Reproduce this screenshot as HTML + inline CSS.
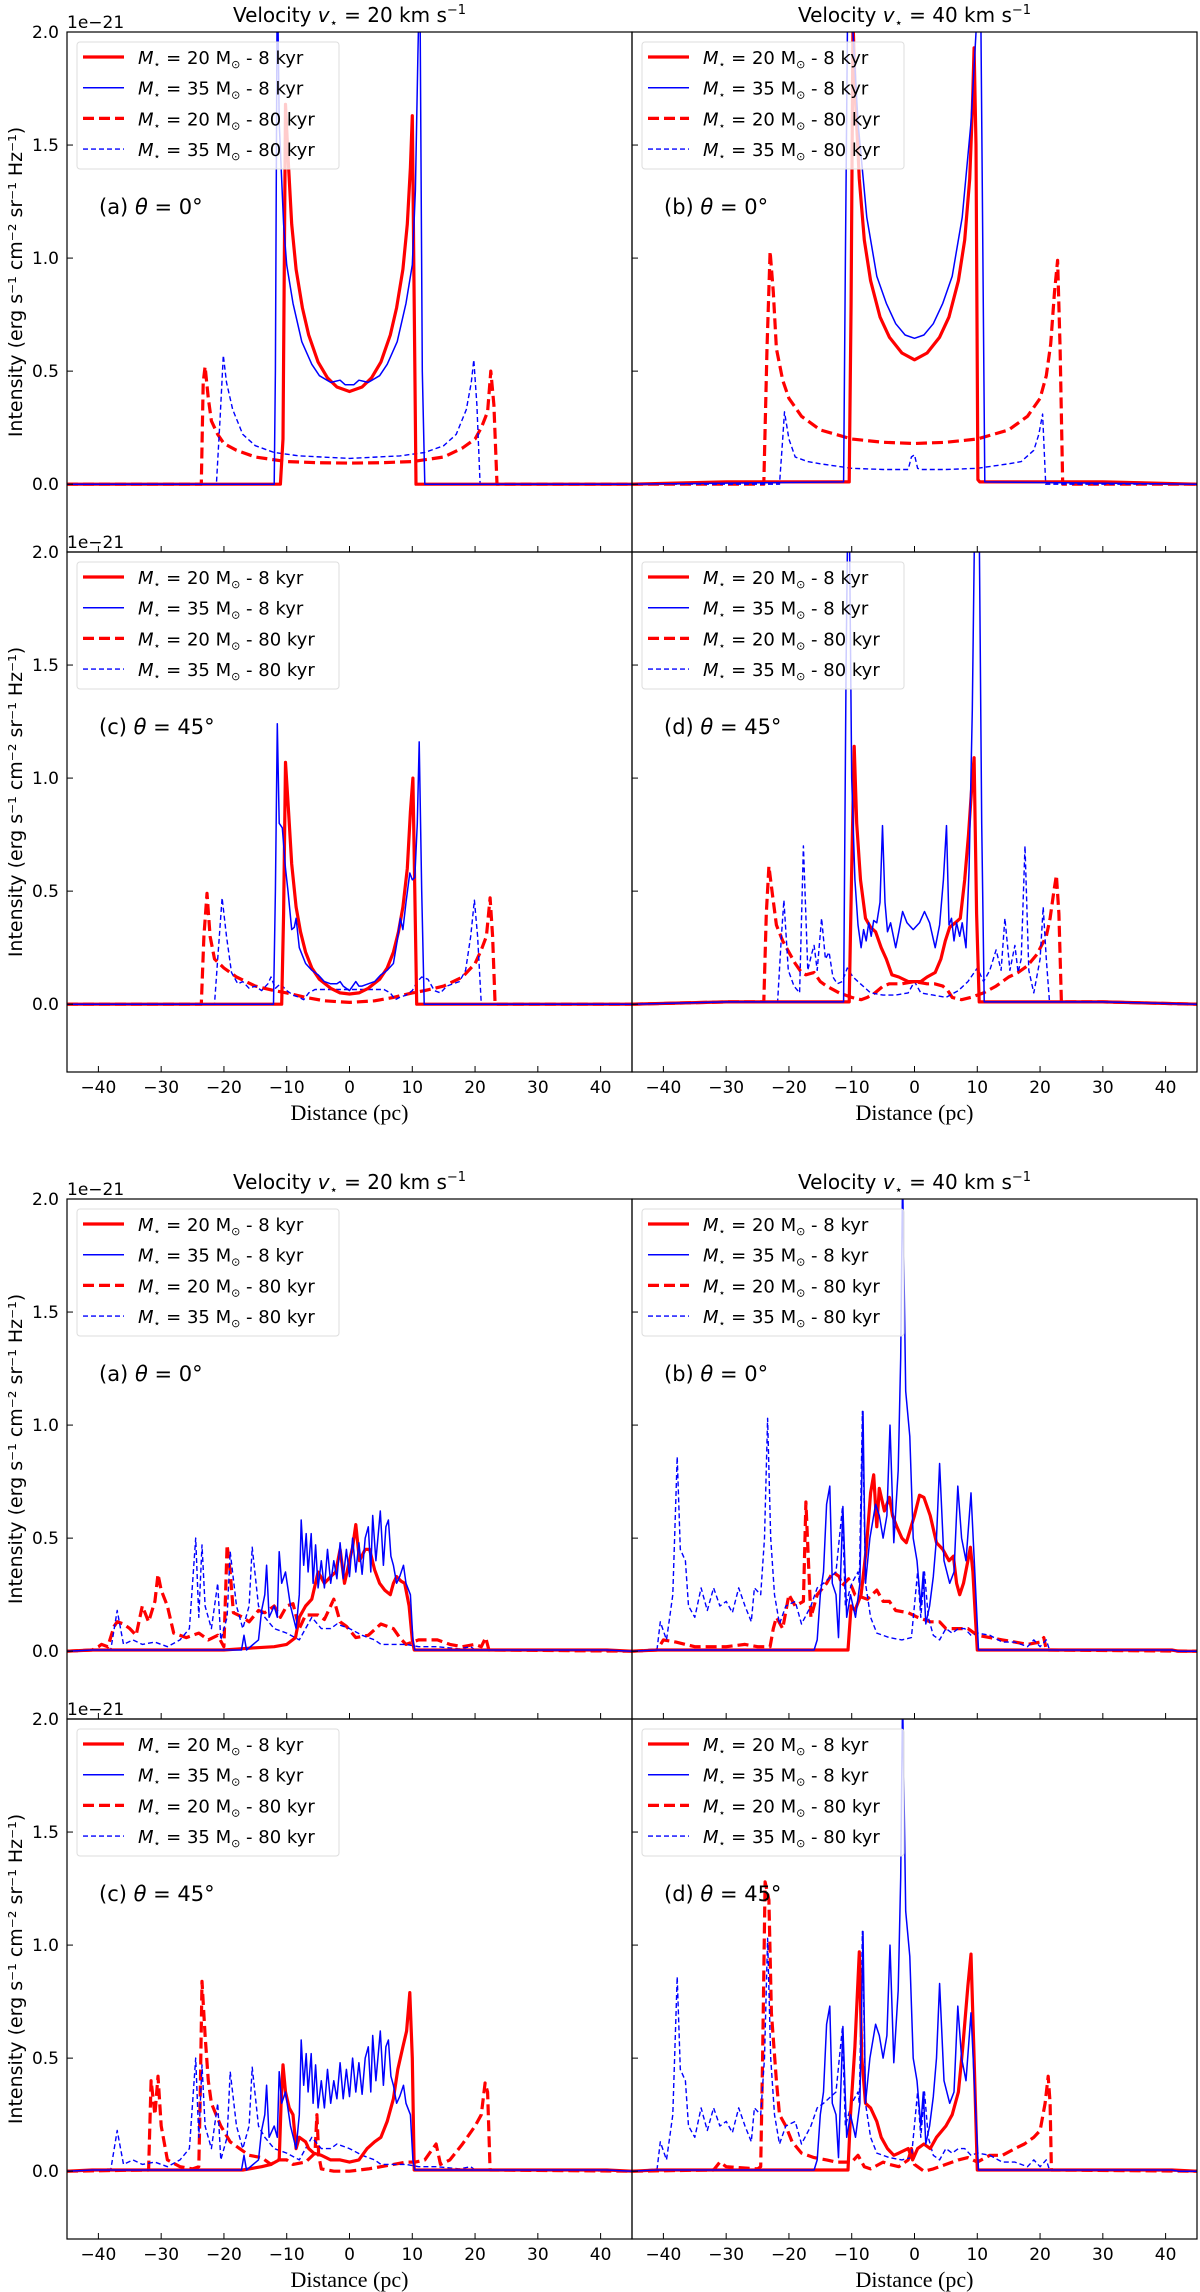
<!DOCTYPE html>
<html><head><meta charset="utf-8"><title>Intensity profiles</title>
<style>html,body{margin:0;padding:0;background:#fff}svg{display:block}</style></head>
<body>
<svg id="chart" xmlns="http://www.w3.org/2000/svg" width="1200" height="2292" viewBox="0 0 1200 2292"></svg>
<script>
// ===== Data (x in pc, y in 1e-21 erg s^-1 cm^-2 sr^-1 Hz^-1) =====
const xTicks = [-40,-30,-20,-10,0,10,20,30,40];
const yTicks = [0.0,0.5,1.0,1.5,2.0];
const yTickLabels = ["0.0","0.5","1.0","1.5","2.0"];
const legendLabels = ["20 M|8","35 M|8","20 M|80","35 M|80"];
const velocityTitles = ["20","40"];

// Top figure, panel (a)
const A1_r8_x = [-45,-11,-10.6,-10.2,-9.8,-9.2,-8.5,-7.5,-6.5,-5,-3.5,-2,0,2,3.5,5,6.5,7.5,8.5,9.2,9.7,10.0,10.3,10.6,45];
const A1_r8_y = [0,0,0.2,1.68,1.45,1.15,0.95,0.78,0.66,0.54,0.47,0.43,0.41,0.43,0.47,0.54,0.66,0.78,0.95,1.15,1.4,1.63,0.8,0,0];
const A1_b8_x = [-45,-12,-11.8,-11.5,-11.2,-10.5,-10,-9,-7.6,-6,-4.8,-3,-1.5,-0.7,0,0.7,1.5,3,4.8,6,7.6,9,10,10.5,10.9,11.2,11.6,12,45];
const A1_b8_y = [0,0,0.5,2.3,1.6,1.15,0.97,0.8,0.63,0.53,0.48,0.45,0.46,0.44,0.44,0.44,0.46,0.45,0.48,0.53,0.63,0.8,0.97,1.3,1.9,2.3,0.5,0,0];
const A1_r80_x = [-45,-23.6,-23.3,-23,-22.5,-22,-21,-20,-18,-15,-10,-5,0,5,10,15,18,20,21,22,22.5,23,23.5,45];
const A1_r80_y = [0,0,0.45,0.52,0.38,0.28,0.22,0.18,0.15,0.12,0.1,0.095,0.093,0.095,0.1,0.12,0.16,0.2,0.25,0.32,0.5,0.35,0,0];
const A1_b80_x = [-45,-21.2,-20.6,-20.1,-19.6,-18.6,-17,-15,-12,-8,0,8,12,15,17,18.6,19.4,19.8,20.3,20.8,45];
const A1_b80_y = [0,0,0.3,0.57,0.45,0.33,0.22,0.17,0.14,0.125,0.114,0.125,0.14,0.17,0.22,0.33,0.45,0.55,0.35,0,0];

// Top figure, panel (b)
const B1_r8_x = [-45,-30,-10.4,-10.1,-9.8,-9.4,-8.8,-8,-7,-5.5,-4,-2,0,2,4,5.5,7,8,8.8,9.2,9.5,9.8,10.1,10.4,30,45];
const B1_r8_y = [0,0.01,0.01,0.8,2.05,1.7,1.35,1.08,0.9,0.74,0.65,0.58,0.55,0.58,0.65,0.74,0.9,1.08,1.35,1.65,1.93,1.5,0.02,0.01,0.01,0];
const B1_b8_x = [-45,-11.3,-11,-10.6,-10,-9,-7.6,-6,-4.5,-3,-1.5,0,1.5,3,4.5,6,7.6,9,10,10.5,10.9,11.2,45];
const B1_b8_y = [0,0.01,1.0,2.3,2.1,1.6,1.18,0.92,0.8,0.71,0.66,0.645,0.66,0.71,0.8,0.92,1.18,1.6,2.1,2.3,1.0,0.01,0];
const B1_r80_x = [-45,-24,-23.5,-23,-22.5,-22,-21,-20,-18,-15,-10,-5,0,5,10,15,18,20,21,21.7,22.3,22.8,23.2,23.6,45];
const B1_r80_y = [0,0,0.6,1.03,0.85,0.6,0.46,0.38,0.3,0.24,0.2,0.185,0.18,0.185,0.2,0.24,0.3,0.38,0.48,0.62,0.85,0.99,0.6,0,0];
const B1_b80_x = [-45,-21.5,-21,-20.7,-20,-19,-17,-15,-10,-5,-1,-0.5,0,0.5,1,5,10,15,17,19,19.8,20.4,20.9,45];
const B1_b80_y = [0,0,0.2,0.32,0.2,0.12,0.1,0.09,0.07,0.065,0.065,0.12,0.13,0.07,0.065,0.065,0.07,0.09,0.1,0.15,0.22,0.31,0,0];

// Top figure, panel (c)
const C1_r8_x = [-45,-10.8,-10.5,-10.2,-9.7,-9.2,-8.5,-7.8,-7,-6,-4.8,-3,-1.5,0,1.5,3,4.8,6,7,7.8,8.5,9.2,9.7,10.1,10.4,10.7,45];
const C1_r8_y = [0,0,0.4,1.07,0.85,0.62,0.43,0.32,0.23,0.16,0.11,0.07,0.05,0.045,0.05,0.07,0.11,0.16,0.23,0.32,0.43,0.6,0.85,1.0,0.5,0,0];
const C1_b8_x = [-45,-12.1,-11.8,-11.5,-11.2,-10.7,-10.2,-9.8,-9.2,-8.8,-8.5,-8,-7,-6,-5,-4,-3,-2,-1.5,-1,0,1,1.5,2,3,4,5,6,7,7.6,8.1,8.5,9,9.6,10,10.4,10.8,11.1,11.5,11.9,45];
const C1_b8_y = [0,0,0.5,1.24,0.8,0.78,0.6,0.5,0.33,0.34,0.38,0.25,0.18,0.15,0.13,0.1,0.09,0.09,0.1,0.08,0.06,0.1,0.08,0.08,0.09,0.1,0.13,0.15,0.18,0.28,0.38,0.33,0.45,0.58,0.55,0.56,0.8,1.16,0.5,0,0];
const C1_r80_x = [-45,-23.6,-23.2,-22.7,-22.2,-21.5,-20,-18,-15,-12,-10,-7,-4,0,4,7,10,12,15,18,20,21,21.8,22.4,22.8,23.2,45];
const C1_r80_y = [0,0,0.3,0.49,0.3,0.2,0.16,0.12,0.08,0.06,0.05,0.03,0.015,0.008,0.015,0.03,0.05,0.06,0.08,0.12,0.18,0.24,0.3,0.47,0.3,0,0];
const C1_b80_x = [-45,-21.5,-21,-20.3,-19.6,-18.8,-17.8,-17,-16,-15,-14,-13,-12.5,-11.8,-11,-10,-9,-8,-7.3,-6.5,-5.5,0,5.5,6.5,7.3,8,9,10,10.8,11.5,12.5,13.5,14.5,15.5,16.5,17.5,18.5,19.3,19.9,20.4,21,45];
const C1_b80_y = [0,0,0.2,0.47,0.3,0.14,0.09,0.1,0.07,0.08,0.06,0.09,0.12,0.07,0.09,0.06,0.04,0.03,0.02,0.05,0.065,0.065,0.065,0.05,0.02,0.03,0.04,0.06,0.1,0.12,0.11,0.06,0.05,0.08,0.09,0.1,0.15,0.3,0.46,0.3,0,0];

// Top figure, panel (d)
const D1_r8_x = [-45,-30,-10.4,-10,-9.6,-9.2,-8.6,-7.8,-7,-6.2,-5.3,-4.5,-3.6,-2.5,-1,0,1,2,3.3,4.2,4.9,5.6,6.5,7.3,8,8.6,9.1,9.5,9.9,10.3,30,45];
const D1_r8_y = [0,0.01,0.01,0.6,1.14,0.8,0.55,0.38,0.34,0.32,0.25,0.2,0.13,0.12,0.1,0.1,0.1,0.12,0.14,0.2,0.28,0.34,0.36,0.38,0.55,0.75,0.95,1.09,0.4,0.01,0.01,0];
const D1_b8_x = [-45,-30,-11.3,-10.9,-10.5,-10,-9.5,-9,-8.5,-8.1,-7.7,-7.3,-6.9,-6.5,-6,-5.5,-5.1,-4.7,-4.3,-3.8,-3,-2.5,-1.9,-1.2,-0.2,0.8,1.6,2.4,3.3,4,4.6,5.1,5.5,5.9,6.3,6.7,7.2,7.6,8.2,8.7,9.2,9.6,10.2,10.7,11.1,30,45];
const D1_b8_y = [0,0.01,0.01,1.5,2.5,1.0,0.55,0.35,0.25,0.33,0.28,0.36,0.3,0.37,0.36,0.45,0.79,0.45,0.32,0.36,0.25,0.32,0.41,0.36,0.33,0.36,0.41,0.36,0.25,0.35,0.55,0.79,0.35,0.38,0.28,0.36,0.3,0.36,0.25,0.6,1.3,2.2,2.5,0.8,0.01,0.01,0];
const D1_r80_x = [-45,-30,-24,-23.6,-23.2,-22.6,-22,-21,-20,-19,-18,-17.3,-16,-15,-14,-12,-10,-8.5,-7.5,-6.3,-5,-4,-2,0,2,3.2,4.5,5.3,6,7.5,9,11,13,15,16.5,18,19.5,21,21.6,22.2,22.6,23,23.4,30,45];
const D1_r80_y = [0,0.01,0.01,0.4,0.61,0.48,0.35,0.28,0.23,0.18,0.14,0.13,0.14,0.1,0.08,0.05,0.03,0.02,0.03,0.05,0.08,0.09,0.09,0.1,0.09,0.09,0.08,0.06,0.03,0.02,0.03,0.05,0.08,0.12,0.14,0.17,0.22,0.3,0.38,0.5,0.57,0.4,0.01,0.01,0];
const D1_b80_x = [-45,-30,-21.8,-21.2,-20.8,-20.1,-19.2,-18.3,-17.7,-17,-16.4,-16,-15.5,-14.8,-14.2,-13.6,-13,-12.3,-11.5,-10.7,-9.8,-9,-7,-5,-3,-1,0,1,3,5,7,8.5,10,11,12,13,13.8,14.4,15.2,16,16.5,17,17.6,18.2,19,20,20.5,21,21.5,30,45];
const D1_b80_y = [0,0.01,0.01,0.3,0.46,0.15,0.08,0.05,0.7,0.15,0.22,0.26,0.15,0.38,0.2,0.23,0.12,0.09,0.1,0.16,0.12,0.1,0.05,0.04,0.04,0.05,0.1,0.05,0.04,0.03,0.06,0.1,0.16,0.1,0.15,0.24,0.15,0.38,0.15,0.26,0.14,0.2,0.7,0.15,0.05,0.2,0.43,0.2,0.01,0.01,0];

// Bottom figure, panel (a)
const A2_r8_x = [-45,-41,-20,-15,-12,-10,-8.6,-8,-7,-6,-5,-4,-3,-2.2,-1.5,-0.8,0,0.5,1,1.6,2.5,3.2,4,4.8,5.6,6.5,7,7.5,8.2,8.8,9.5,10,10.3,41,45];
const A2_r8_y = [0,0.005,0.005,0.015,0.02,0.03,0.06,0.15,0.2,0.23,0.35,0.3,0.33,0.35,0.45,0.3,0.4,0.46,0.56,0.4,0.45,0.45,0.36,0.3,0.27,0.25,0.3,0.33,0.31,0.3,0.2,0.05,0.005,0.005,0];
const A2_b8_x = [-45,-41,-17.2,-16.8,-16.4,-14.5,-14,-13.5,-13.2,-12.8,-12,-11.5,-11.2,-10.8,-10.2,-9.4,-8.5,-8,-7.7,-7.3,-6.9,-6.6,-6.1,-5.8,-5.4,-5,-4.5,-4,-3.5,-3,-2.5,-2,-1.5,-1,-0.5,0,0.5,1,1.5,2,2.5,3,3.4,3.7,4.2,4.9,5.4,5.8,6.2,6.6,7,7.5,8,8.6,9,9.7,10.1,10.4,41,45];
const A2_b8_y = [0,0.005,0.005,0.07,0.005,0.05,0.18,0.25,0.38,0.15,0.2,0.15,0.44,0.3,0.35,0.2,0.1,0.25,0.58,0.38,0.52,0.35,0.52,0.3,0.47,0.28,0.4,0.28,0.45,0.3,0.4,0.32,0.48,0.32,0.45,0.33,0.5,0.35,0.48,0.34,0.5,0.55,0.35,0.6,0.4,0.62,0.38,0.55,0.58,0.42,0.38,0.3,0.33,0.38,0.3,0.25,0.05,0.005,0.005,0];
const A2_r80_x = [-45,-41,-40,-39.5,-38.5,-37.5,-37,-36,-35,-34,-33,-32,-31,-30.5,-30,-29,-28,-26,-24,-22.5,-21,-20,-19.5,-19,-18.5,-17,-16,-14.5,-13.5,-12,-11,-10,-9,-8,-7,-5,-4,-2.5,-1.5,-0.5,1,3,5,7,8,9,11,14,16,18,20,21,21.7,22.2,45];
const A2_r80_y = [0,0.005,0.02,0.03,0.02,0.11,0.13,0.12,0.1,0.07,0.2,0.13,0.22,0.34,0.27,0.2,0.08,0.06,0.08,0.05,0.07,0.02,0.47,0.35,0.17,0.15,0.13,0.18,0.17,0.2,0.15,0.2,0.21,0.1,0.16,0.16,0.14,0.23,0.13,0.11,0.06,0.07,0.12,0.1,0.06,0.03,0.05,0.05,0.03,0.02,0.03,0.02,0.06,0.005,0];
const A2_b80_x = [-45,-41,-38,-37,-36,-34.5,-33,-31,-29,-27,-25.5,-24.5,-24,-23.5,-23,-22,-21,-20.5,-19.5,-19,-18,-17,-16,-15.5,-14.5,-13.5,-12,-10,-8,-6,-4.5,-3,-2,0,2,4,5,7,9,11,14,17.5,19.3,20,45];
const A2_b80_y = [0,0.005,0.01,0.18,0.03,0.05,0.03,0.04,0.02,0.05,0.1,0.5,0.15,0.47,0.2,0.1,0.3,0.05,0.15,0.44,0.2,0.1,0.2,0.46,0.2,0.15,0.1,0.08,0.05,0.15,0.1,0.1,0.12,0.1,0.07,0.05,0.03,0.03,0.03,0.02,0.02,0.01,0.02,0.005,0];

// Bottom figure, panel (b)
const B2_r8_x = [-45,-41,-10.6,-10.1,-9.5,-8.5,-7.7,-7,-6.5,-6,-5.6,-4.8,-4,-3.5,-2.8,-2,-1.3,0,0.8,1.5,2.5,3.5,4.5,5.5,6.2,6.7,7.2,7.8,8.5,8.9,9.3,9.7,10,41,42,45];
const B2_r8_y = [0,0.005,0.005,0.2,0.18,0.25,0.45,0.7,0.78,0.55,0.72,0.62,0.68,0.6,0.55,0.5,0.48,0.6,0.69,0.68,0.6,0.48,0.45,0.4,0.42,0.3,0.25,0.3,0.4,0.46,0.35,0.15,0.005,0.005,0,0];
const B2_b8_x = [-45,-41,-16,-15.5,-15,-14.5,-14,-13.5,-13.1,-12.5,-12.1,-11.4,-10.8,-10.2,-9.4,-8.7,-8.2,-7.8,-7.1,-6.2,-5.6,-5,-4.4,-3.9,-3.3,-2.6,-2.2,-1.9,-1.4,-0.75,-0.2,0.4,1,1.4,1.8,2.4,3,3.5,4,4.7,5.6,6.3,6.9,7.5,8.2,9,9.6,10.2,41,42,45];
const B2_b8_y = [0,0.005,0.005,0.05,0.25,0.35,0.65,0.73,0.3,0.25,0.06,0.64,0.15,0.25,0.15,0.3,1.06,0.3,0.5,0.65,0.6,0.5,0.6,1.0,0.48,0.8,1.3,2.1,1.15,0.95,0.5,0.4,0.2,0.35,0.12,0.2,0.33,0.5,0.83,0.4,0.3,0.35,0.73,0.5,0.4,0.7,0.35,0.005,0.005,0,0];
const B2_r80_x = [-45,-41,-40,-38,-35,-30,-27,-25,-23,-22.5,-22,-21,-20,-19,-17.7,-17.3,-16.9,-16.5,-15.5,-14,-13,-12,-11.5,-10.5,-9.5,-7.5,-6,-5,-4,-3,-1,0.5,2.5,4,5,7,8.5,10,12,14,16,18,20,20.6,21,45];
const B2_r80_y = [0,0.005,0.05,0.04,0.02,0.02,0.03,0.02,0.02,0.1,0.15,0.1,0.25,0.2,0.22,0.66,0.4,0.15,0.25,0.3,0.35,0.33,0.29,0.32,0.25,0.23,0.27,0.22,0.22,0.18,0.17,0.15,0.13,0.13,0.1,0.1,0.1,0.07,0.06,0.05,0.04,0.03,0.04,0.06,0.005,0];
const B2_b80_x = [-45,-41,-40.5,-39.5,-39,-38.5,-37.8,-37.3,-36.5,-36,-35,-34,-33,-32,-31,-30,-29,-28,-27,-26,-25.5,-24.5,-23.9,-23.4,-22.9,-22.3,-21.5,-20.5,-19,-18,-16.5,-15.5,-14.5,-12.5,-11.5,-11,-10,-9,-8.8,-8.3,-7.8,-7,-6,-4,-2,-0.5,0.5,1,1.6,2.2,3,4,5,6,7,8,9,10,12,14,16,18,19,20,21,21.5,45];
const B2_b80_y = [0,0.01,0.13,0.05,0.15,0.25,0.86,0.45,0.4,0.2,0.15,0.28,0.18,0.28,0.2,0.22,0.17,0.28,0.2,0.13,0.28,0.25,0.5,1.03,0.5,0.25,0.12,0.2,0.22,0.12,0.2,0.28,0.3,0.35,0.63,0.2,0.3,0.35,0.3,1.06,0.3,0.15,0.08,0.06,0.05,0.06,0.35,0.15,0.35,0.15,0.07,0.05,0.1,0.08,0.1,0.1,0.07,0.08,0.07,0.04,0.04,0.02,0.05,0.02,0.05,0.005,0];

// Bottom figure, panel (c)
const C2_r8_x = [-45,-41,-17,-14,-12.5,-11.2,-10.9,-10.6,-10.2,-9.6,-9,-8.5,-8,-7,-6.5,-5.7,-4.5,-3,-1.5,0,1.5,2.8,4,5,6,7,7.7,8.5,9.1,9.6,10,10.3,41,45];
const C2_r8_y = [0,0.005,0.005,0.02,0.03,0.05,0.3,0.47,0.35,0.28,0.25,0.1,0.15,0.13,0.1,0.08,0.07,0.05,0.05,0.04,0.05,0.1,0.13,0.15,0.22,0.32,0.45,0.55,0.62,0.79,0.5,0.005,0.005,0];
const C2_b8_x = A2_b8_x.slice();
const C2_b8_y = A2_b8_y.slice();
const C2_r80_x = [-45,-32,-31.6,-31,-30.5,-30,-29,-27,-25,-24,-23.8,-23.5,-23,-22.5,-22,-20.5,-19,-17.5,-16,-14,-12.5,-11.5,-10,-9,-7,-5.5,-5.2,-4.9,-4.5,-2.5,0,3,5,7,9,10.5,12,13.8,14.5,16,18,20,21,21.6,22,22.4,45];
const C2_r80_y = [0,0.005,0.4,0.25,0.42,0.2,0.05,0.02,0.01,0.02,0.3,0.84,0.6,0.4,0.3,0.2,0.13,0.1,0.07,0.06,0.03,0.05,0.05,0.03,0.04,0.08,0.25,0.07,0.01,0.0,0.0,0.01,0.02,0.03,0.04,0.04,0.05,0.12,0.03,0.05,0.12,0.2,0.25,0.39,0.35,0.005,0];
const C2_b80_x = A2_b80_x.slice();
const C2_b80_y = A2_b80_y.slice();

// Bottom figure, panel (d)
const D2_r8_x = [-45,-41,-10.6,-10.2,-9.5,-8.8,-8.4,-7.8,-7,-6,-5.3,-4.3,-3.3,-2.5,-1,-0.3,0.5,1.5,2.5,3.5,5,6,7,7.7,8.5,9,9.5,10,41,45];
const D2_r8_y = [0,0.005,0.005,0.25,0.55,0.97,0.5,0.3,0.28,0.22,0.15,0.1,0.07,0.08,0.1,0.05,0.1,0.12,0.1,0.15,0.2,0.25,0.35,0.55,0.82,0.96,0.5,0.005,0.005,0];
const D2_b8_x = B2_b8_x.slice();
const D2_b8_y = B2_b8_y.slice();
const D2_r80_x = [-45,-32,-31,-30,-25,-24.5,-24.2,-23.8,-23.2,-22.8,-22,-21.5,-20.5,-19.5,-18,-16,-14,-12.5,-11,-10,-9,-8,-7,-5,-4,-2.5,-1,-0.5,0,1.5,3,5,7,8.5,10,12,14,16,17.5,19,20,20.8,21.3,21.6,21.8,45];
const D2_r80_y = [0,0.005,0.04,0.02,0.01,0.02,0.5,1.28,1.2,0.7,0.4,0.25,0.2,0.13,0.08,0.06,0.05,0.04,0.04,0.04,0.07,0.02,0.01,0.04,0.03,0.02,0.05,0.1,0.03,0.0,0.01,0.03,0.05,0.06,0.04,0.07,0.07,0.1,0.12,0.15,0.18,0.3,0.42,0.3,0.005,0];
const D2_b80_x = B2_b80_x.slice();
const D2_b80_y = B2_b80_y.slice();

// ===== Layout =====
const NS = "http://www.w3.org/2000/svg";
const svg = document.getElementById('chart');
const PW = 565, PH = 520;
const colX = [67, 632];
const figTop = [32, 1199];
const XMIN = -45, XMAX = 45, YMIN = -0.3, YMAX = 2.0;
const panelLetters = ["a","b","c","d"];
const panelAngles = ["0","0","45","45"];
const seriesStyles = {
  r8:  {stroke:"#ff0000", w:3.2, dash:null},
  b8:  {stroke:"#0000ff", w:1.5, dash:null},
  r80: {stroke:"#ff0000", w:3.2, dash:"11,5"},
  b80: {stroke:"#0000ff", w:1.4, dash:"5,3"}
};
const data = {
  A1:{r8:[A1_r8_x,A1_r8_y],b8:[A1_b8_x,A1_b8_y],r80:[A1_r80_x,A1_r80_y],b80:[A1_b80_x,A1_b80_y]},
  B1:{r8:[B1_r8_x,B1_r8_y],b8:[B1_b8_x,B1_b8_y],r80:[B1_r80_x,B1_r80_y],b80:[B1_b80_x,B1_b80_y]},
  C1:{r8:[C1_r8_x,C1_r8_y],b8:[C1_b8_x,C1_b8_y],r80:[C1_r80_x,C1_r80_y],b80:[C1_b80_x,C1_b80_y]},
  D1:{r8:[D1_r8_x,D1_r8_y],b8:[D1_b8_x,D1_b8_y],r80:[D1_r80_x,D1_r80_y],b80:[D1_b80_x,D1_b80_y]},
  A2:{r8:[A2_r8_x,A2_r8_y],b8:[A2_b8_x,A2_b8_y],r80:[A2_r80_x,A2_r80_y],b80:[A2_b80_x,A2_b80_y]},
  B2:{r8:[B2_r8_x,B2_r8_y],b8:[B2_b8_x,B2_b8_y],r80:[B2_r80_x,B2_r80_y],b80:[B2_b80_x,B2_b80_y]},
  C2:{r8:[C2_r8_x,C2_r8_y],b8:[C2_b8_x,C2_b8_y],r80:[C2_r80_x,C2_r80_y],b80:[C2_b80_x,C2_b80_y]},
  D2:{r8:[D2_r8_x,D2_r8_y],b8:[D2_b8_x,D2_b8_y],r80:[D2_r80_x,D2_r80_y],b80:[D2_b80_x,D2_b80_y]}
};

function el(tag, attrs, parent){
  const e = document.createElementNS(NS, tag);
  for (const k in attrs) e.setAttribute(k, attrs[k]);
  (parent||svg).appendChild(e);
  return e;
}
function xScale(v, x0){ return x0 + (v - XMIN) / (XMAX - XMIN) * PW; }
function yScale(v, y0){ return y0 + (YMAX - v) / (YMAX - YMIN) * PH; }

const defs = el('defs', {});

const TF = '"DejaVu Sans","Liberation Sans",sans-serif';

for (let f = 0; f < 2; f++) {
  for (let c = 0; c < 2; c++) {
    const t = el('text', {x: colX[c] + PW/2, y: figTop[f] - 10, 'text-anchor':'middle', 'font-size':20, 'font-family':TF, fill:'#000'});
    
    
    t.innerHTML = 'Velocity <tspan font-style="italic">v</tspan><tspan font-size="13" dy="5">⋆</tspan><tspan dy="-5"> = ' + velocityTitles[c] + ' km s</tspan><tspan font-size="13" dy="-8">−1</tspan>';
  }
  for (let r = 0; r < 2; r++) {
    const y0 = figTop[f] + r * PH;
    // y-axis label for this row
    const yl = el('text', {x: 0, y: 0, transform: 'translate(22,' + (y0 + PH/2 - 10) + ') rotate(-90)', 'text-anchor':'middle', 'font-size':19, 'font-family':TF, fill:'#000'});
    
    
    yl.textContent = 'Intensity (erg s⁻¹ cm⁻² sr⁻¹ Hz⁻¹)';
    // offset text
    const off = el('text', {x: 67, y: y0 - 4, 'font-size':17, 'font-family':TF, fill:'#000'});
    
    
    off.textContent = '1e−21';

    for (let c = 0; c < 2; c++) {
      const idx = r*2 + c;
      const key = "ABCD"[idx] + (f+1);
      const x0 = colX[c];
      const g = el('g', {});
      
      
      const cp = el('clipPath', {id: 'clip-' + key}, defs);
      el('rect', {x:x0, y:y0, width:PW, height:PH}, cp);

      // series
      const order = ['r80','b80','r8','b8'];
      for (const s of order) {
        const xs = data[key][s][0], ys = data[key][s][1];
        const n = Math.min(xs.length, ys.length);
        let d = '';
        for (let i = 0; i < n; i++) d += (i ? 'L' : 'M') + xScale(xs[i], x0).toFixed(1) + ',' + yScale(ys[i], y0).toFixed(1);
        const st = seriesStyles[s];
        const p = el('path', {d: d, fill:'none', stroke: st.stroke, 'stroke-width': st.w, 'stroke-linejoin':'round', 'clip-path':'url(#clip-' + key + ')'}, g);
        if (st.dash) p.setAttribute('stroke-dasharray', st.dash);
        
        
      }

      // frame
      const fr = el('rect', {x:x0, y:y0, width:PW, height:PH, fill:'none', stroke:'#000', 'stroke-width':1.2}, g);
      
      

      // ticks
      for (const v of xTicks) {
        const xx = xScale(v, x0);
        const tk = el('line', {x1:xx, x2:xx, y1:y0+PH, y2:y0+PH-6, stroke:'#000', 'stroke-width':1}, g);
        
        
        if (r === 1) {
          const tl = el('text', {x:xx, y:y0+PH+21, 'text-anchor':'middle', 'font-size':17, 'font-family':TF, fill:'#000'}, g);
          
          
          tl.textContent = String(v).replace('-', '−');
        }
      }
      for (let i = 0; i < yTicks.length; i++) {
        const yy = yScale(yTicks[i], y0);
        const tk = el('line', {x1:x0, x2:x0+6, y1:yy, y2:yy, stroke:'#000', 'stroke-width':1}, g);
        
        
        if (c === 0) {
          const tl = el('text', {x:x0-8, y:yy+6, 'text-anchor':'end', 'font-size':17, 'font-family':TF, fill:'#000'}, g);
          
          
          tl.textContent = yTickLabels[i];
        }
      }
      if (r === 1) {
        const xt = el('text', {x:x0+PW/2, y:y0+PH+48, 'text-anchor':'middle', 'font-size':22, 'font-family':'"Liberation Serif","DejaVu Serif",serif', fill:'#000'}, g);
        
        
        xt.textContent = 'Distance (pc)';
      }

      // annotation
      const an = el('text', {x:x0+32, y:y0+182, 'font-size':21, 'font-family':TF, fill:'#000'}, g);
      
      
      an.innerHTML = '(' + panelLetters[idx] + ')' + (idx===2 ? '  ' : ' ') + '<tspan font-style="italic">θ</tspan> = ' + panelAngles[idx] + '°';
      an.setAttribute('xml:space', 'preserve');

      // legend
      const lg = el('g', {}, g);
      
      
      el('rect', {x:x0+10, y:y0+10, width:262, height:127, rx:3, fill:'rgba(255,255,255,0.8)', stroke:'#ddd', 'stroke-width':1}, lg);
      const keys = ['r8','b8','r80','b80'];
      for (let i = 0; i < 4; i++) {
        const ly = y0 + 25 + i*30.7;
        const st = seriesStyles[keys[i]];
        const ln = el('line', {x1:x0+16, x2:x0+57, y1:ly, y2:ly, stroke:st.stroke, 'stroke-width':st.w}, lg);
        if (st.dash) ln.setAttribute('stroke-dasharray', st.dash);
        
        
        const parts = legendLabels[i].split('|');
        const tx = el('text', {x:x0+71, y:ly+7, 'font-size':18, 'font-family':TF, fill:'#000'}, lg);
        
        
        tx.innerHTML = '<tspan font-style="italic">M</tspan><tspan font-size="11" dy="4">⋆</tspan><tspan dy="-4"> = ' + parts[0].replace(' M','') + ' M</tspan><tspan font-size="11" dy="4">⊙</tspan><tspan dy="-4"> - ' + parts[1] + ' kyr</tspan>';
      }
    }
  }
}
</script>
</body></html>
